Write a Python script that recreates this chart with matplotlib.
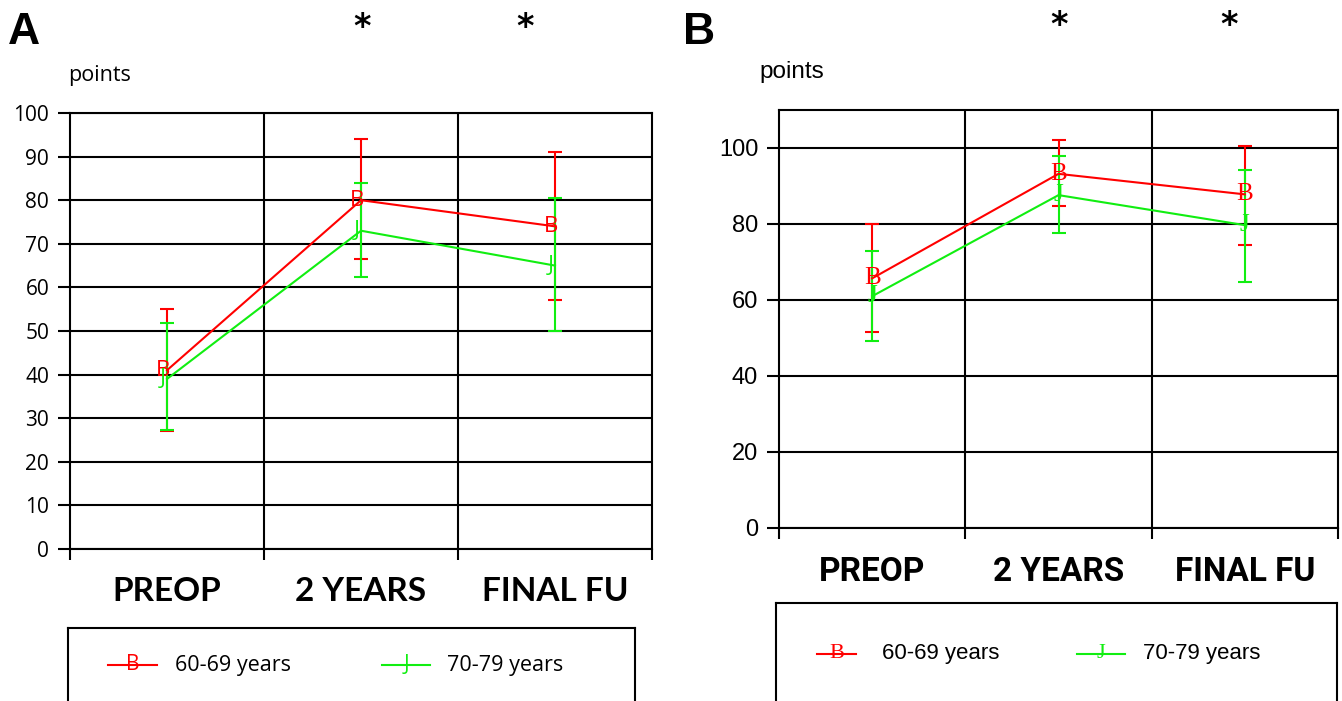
import matplotlib
matplotlib.use('Agg')
import matplotlib.pyplot as plt
import numpy as np

categories = ['PREOP', '2 YEARS', 'FINAL FU']
groups = ['60-69 years', '70-79 years']
letters = ['B', 'J']
colors = ['#ff0000', '#11ee11']

# panel A
a_mean_6069 = [41, 80, 74]
a_low_6069 = [27, 66.5, 57]
a_high_6069 = [55, 94, 91]
a_mean_7079 = [39, 73, 65]
a_low_7079 = [27.3, 62.5, 50]
a_high_7079 = [51.8, 84, 80.5]
a_yticks = [0, 10, 20, 30, 40, 50, 60, 70, 80, 90, 100]

# panel B
b_mean_6069 = [65.7, 93.2, 87.8]
b_low_6069 = [51.6, 84.7, 74.5]
b_high_6069 = [80, 102, 100.5]
b_mean_7079 = [61, 87.6, 79.7]
b_low_7079 = [49.2, 77.6, 64.7]
b_high_7079 = [73, 98, 94.2]
b_yticks = [0, 20, 40, 60, 80, 100]

W, H = 1342, 701
fig = plt.figure(figsize=(W / 100, H / 100), dpi=100)


def fx(px):
    return px / W


def fy(py):
    return 1 - py / H


def panel(rect, means, lows, highs, yticks, ylim, tickfont, tickfs, catfont, markfont, markfs, mdx):
    ax = fig.add_axes(rect)
    x = np.arange(len(categories))
    for i in range(2):
        m = np.array(means[i])
        err = np.array([m - np.array(lows[i]), np.array(highs[i]) - m])
        ax.errorbar(x, m, yerr=err, fmt='none', ecolor=colors[i], elinewidth=1.5,
                    capsize=5, capthick=1.5, zorder=3 + i)
    for i in range(2):
        ax.plot(x, means[i], color=colors[i], lw=1.5, zorder=5)
        for xi, yi in zip(x, means[i]):
            ax.annotate(letters[i], (xi, yi), xytext=(mdx, 0), textcoords='offset points',
                        color=colors[i], ha='center', va='center',
                        fontsize=markfs, family=markfont, zorder=6)
    ax.set_xlim(-0.5, 2.5)
    ax.set_ylim(*ylim)
    ax.set_yticks(yticks)
    ax.set_yticklabels([str(t) for t in yticks], family=tickfont, fontsize=tickfs)
    ax.yaxis.grid(True, color='black', lw=1.5)
    for b in [0.5, 1.5]:
        ax.axvline(b, color='black', lw=1.5, zorder=2)
    ax.set_xticks([-0.5, 0.5, 1.5, 2.5])
    ax.set_xticklabels([])
    ax.set_xticks(x, minor=True)
    ax.set_xticklabels(categories, minor=True, family=catfont, fontsize=24, fontweight='bold')
    ax.tick_params(axis='x', which='major', direction='out', length=8, width=1.5)
    ax.tick_params(axis='x', which='minor', length=0, pad=20)
    ax.tick_params(axis='y', direction='out', length=9, width=1.5, pad=6)
    ax.set_axisbelow(True)
    for s in ax.spines.values():
        s.set_linewidth(1.5)
    return ax


panel([fx(70), fy(549), fx(652 - 70), fy(113) - fy(549)],
      [a_mean_6069, a_mean_7079], [a_low_6069, a_low_7079], [a_high_6069, a_high_7079],
      a_yticks, (0, 100), 'Open Sans', 15, 'Lato', 'Open Sans', 16, -3)
panel([fx(779), fy(528), fx(1338 - 779), fy(110) - fy(528)],
      [b_mean_6069, b_mean_7079], [b_low_6069, b_low_7079], [b_high_6069, b_high_7079],
      b_yticks, (0, 110), 'Liberation Sans', 17, 'Roboto', 'Liberation Serif', 18, 0)

# panel letters, units, significance stars
fig.text(fx(8), fy(33), 'A', fontsize=32, fontweight='bold', family='Liberation Sans', va='center')
fig.text(fx(683), fy(33), 'B', fontsize=32, fontweight='bold', family='Liberation Sans', va='center')
fig.text(fx(68), fy(75), 'points', fontsize=15.5, family='Open Sans', va='center')
fig.text(fx(759), fy(72), 'points', fontsize=17.5, family='Liberation Sans', va='center')
for px in [362, 525]:
    fig.text(fx(px), fy(28), '*', fontsize=24, fontweight='bold', ha='center', va='center',
             family='DejaVu Sans')
for px in [1059, 1229]:
    fig.text(fx(px), fy(25), '*', fontsize=24, fontweight='bold', ha='center', va='center',
             family='DejaVu Sans')


def legend_box(left, top, width, hy, segs, textx, textfont, tfs, markfont, mfs):
    h = 0.2
    lax = fig.add_axes([fx(left), fy(top) - h, fx(width), h])
    lax.set_xlim(left, left + width)
    lax.set_ylim(top + h * H, top)
    lax.set_xticks([])
    lax.set_yticks([])
    for s in lax.spines.values():
        s.set_linewidth(1.5)
    for i in range(2):
        x0, x1 = segs[i]
        lax.plot([x0, x1], [hy, hy], color=colors[i], lw=1.5)
        lax.text((x0 + x1) / 2, hy, letters[i], color=colors[i], ha='center', va='center',
                 fontsize=mfs, family=markfont)
        lax.text(textx[i], hy, groups[i], ha='left', va='center', fontsize=tfs, family=textfont)


legend_box(68, 628, 567, 665, [(108, 157), (382, 430)], [175, 447], 'Open Sans', 15.5, 'Open Sans', 15)
legend_box(776, 603, 561, 654, [(817, 856), (1077, 1125)], [882, 1143], 'Liberation Sans', 16, 'Liberation Serif', 16)

fig.savefig('out.png', dpi=100)
